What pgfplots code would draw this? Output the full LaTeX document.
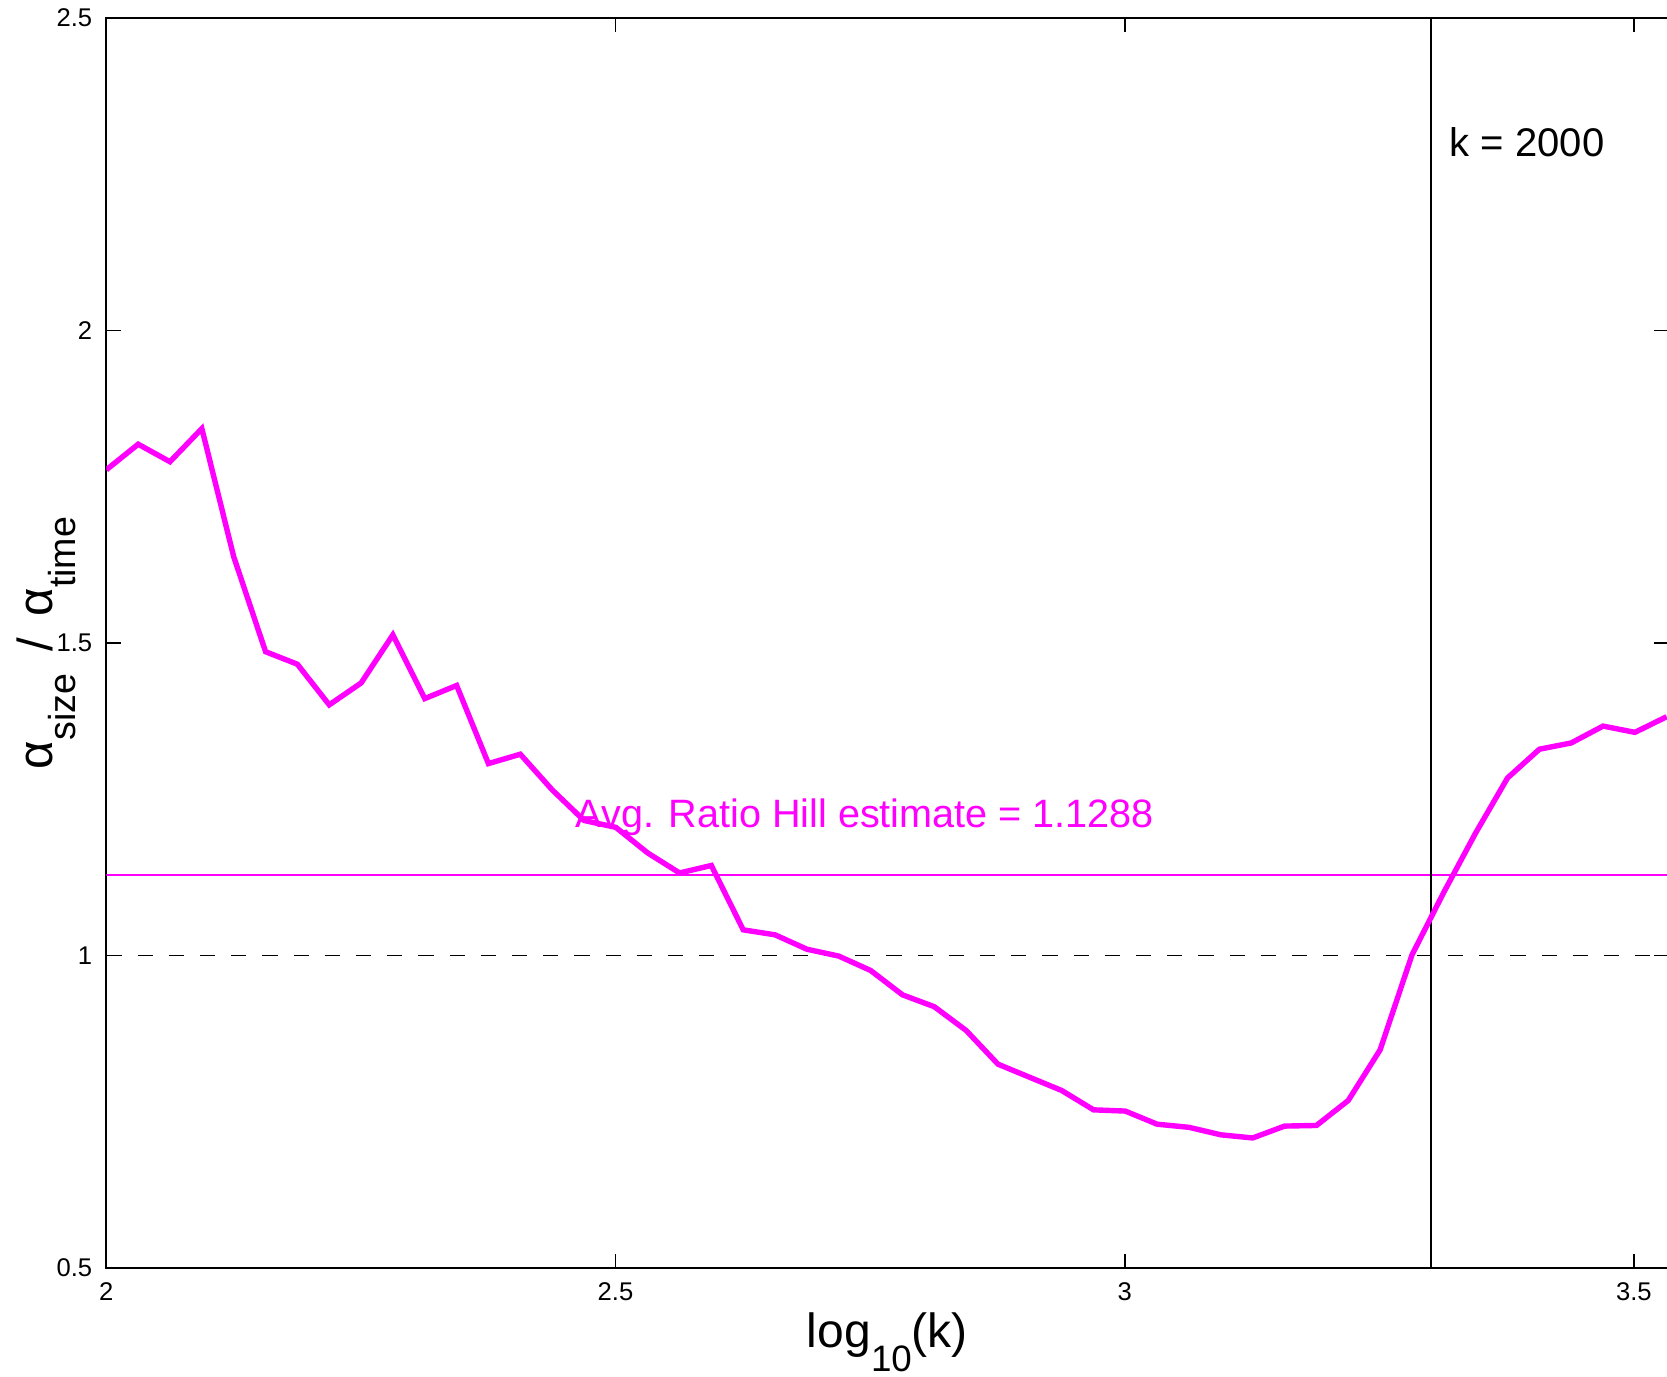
\documentclass[border=0pt]{standalone}
\usepackage{pgfplots}
\pgfplotsset{compat=1.18}
\usepackage{fontspec}
\setmainfont{Liberation Sans}
\definecolor{mag}{RGB}{255,0,255}
\begin{document}
\begin{tikzpicture}
\begin{axis}[
  x=254.6pt, y=156.25pt,
  xmin=2, xmax=3.534, ymin=0.5, ymax=2.5,
  axis line style={line width=0.45pt},
  xtick={2,2.5,3,3.5}, ytick={0.5,1,1.5,2,2.5},
  xticklabels={2,2.5,3,3.5}, yticklabels={0.5,1,1.5,2,2.5},
  tick align=inside, major tick length=3.6pt,
  tick style={line width=0.4pt, black},
  ticklabel style={font=\fontsize{6.4}{7}\selectfont},
  xticklabel style={yshift=-0.2pt},
  /pgf/number format/assume math mode=true,
  xlabel={log\raisebox{-5.8pt}{\fontsize{9.2}{9}\selectfont 10}(k)},
  xlabel style={font=\fontsize{12}{13}\selectfont, at={(axis description cs:0.5,0)}, anchor=base, yshift=-20pt},
  ylabel={α\raisebox{-5.8pt}{\fontsize{9.4}{9}\selectfont size} \,/\, α\raisebox{-5.8pt}{\fontsize{9.4}{9}\selectfont time}},
  ylabel style={font=\fontsize{12.3}{13}\selectfont, at={(axis description cs:-0.0345,0.5)}, anchor=base},
  clip=true,
]
\addplot[black, line width=0.4pt, dash pattern=on 3.8pt off 4pt] coordinates {(2,1) (3.534,1)};
\addplot[mag, line width=0.3pt] coordinates {(2,1.1288) (3.534,1.1288)};
\addplot[black, line width=0.4pt] coordinates {(3.30103,0.5) (3.30103,2.5)};
\addplot[mag, line width=1.35pt, line join=miter] coordinates {
(2.0000,1.777) (2.0313,1.818) (2.0625,1.790) (2.0938,1.843) (2.1251,1.638)
(2.1564,1.486) (2.1876,1.466) (2.2189,1.401) (2.2502,1.436) (2.2814,1.513)
(2.3127,1.411) (2.3440,1.432) (2.3752,1.307) (2.4065,1.322) (2.4378,1.265)
(2.4691,1.216) (2.5003,1.205) (2.5316,1.164) (2.5629,1.132) (2.5941,1.144)
(2.6254,1.041) (2.6567,1.033) (2.6879,1.010) (2.7192,0.999) (2.7505,0.976)
(2.7818,0.937) (2.8130,0.918) (2.8443,0.880) (2.8756,0.826) (2.9068,0.805)
(2.9381,0.784) (2.9694,0.753) (3.0006,0.751) (3.0319,0.730) (3.0632,0.725)
(3.0945,0.713) (3.1257,0.708) (3.1570,0.727) (3.1883,0.728) (3.2195,0.768)
(3.2508,0.849) (3.2821,1.001) (3.3133,1.101) (3.3446,1.196) (3.3759,1.284)
(3.4072,1.330) (3.4384,1.340) (3.4697,1.367) (3.5010,1.357) (3.5322,1.382)
};
\node[mag, anchor=base west, inner sep=0pt, font=\fontsize{9.9}{12}\selectfont] at (axis cs:2.460,1.204) {Avg. Ratio Hill estimate = 1.1288};
\node[black, anchor=base west, inner sep=0pt, font=\fontsize{10}{12}\selectfont] at (axis cs:3.3184,2.279) {k = 2000};
\coordinate (BL) at (axis cs:1.8956,0.3256);
\coordinate (TR) at (axis cs:3.5325,2.5288);
\end{axis}
\pgfresetboundingbox
\useasboundingbox (BL) rectangle (TR);
\end{tikzpicture}
\end{document}
